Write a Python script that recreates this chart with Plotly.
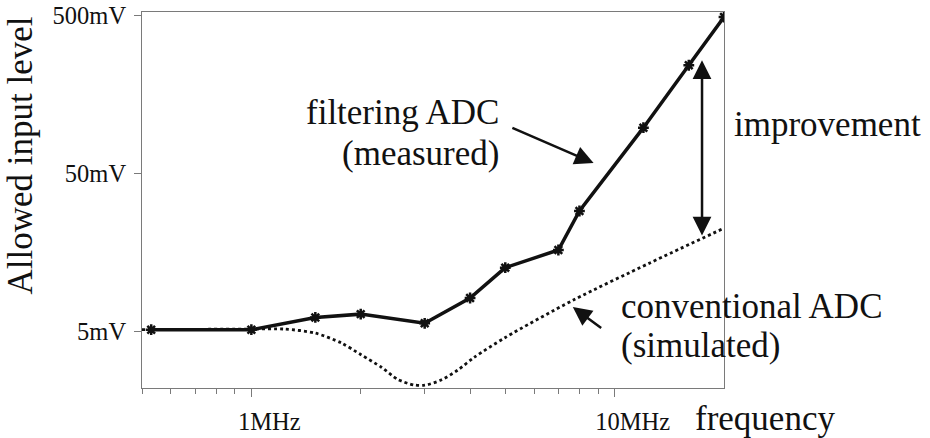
import plotly.graph_objects as go
import math

# ---- data (frequency in MHz, level in mV) ----
freq_measured = [0.53, 1.0, 1.5, 2.0, 3.0, 4.0, 5.0, 7.0, 8.0, 12.0, 16.0, 20.0]
level_measured = [5.1, 5.1, 6.1, 6.4, 5.6, 8.1, 12.6, 16.3, 28.8, 97.0, 241.0, 487.0]

freq_simulated = [0.5, 1.0, 1.23, 1.5, 1.77, 2.0, 2.28, 2.53, 2.8, 3.0, 3.33, 3.7, 4.1, 5.0, 7.7, 12.5, 20.0]
level_simulated = [5.1, 5.15, 5.15, 4.85, 4.2, 3.55, 2.95, 2.47, 2.28, 2.27, 2.45, 2.83, 3.4, 4.55, 7.86, 13.5, 22.4]

x_tick_vals = [1, 10]
x_tick_text = ["1MHz", "10MHz"]
x_minor_vals = [0.5, 0.6, 0.7, 0.8, 0.9, 2, 3, 4, 5, 6, 7, 8, 9]
y_tick_vals = [5, 50, 500]
y_tick_text = ["5mV", "50mV", "500mV"]

improvement_freq = 17.4
improvement_top = 259.0
improvement_bottom = 19.7

SERIF = "Liberation Serif, Times New Roman, serif"
INK = "#111111"
AXIS = "#7a7a7a"

fig = go.Figure()

fig.add_trace(go.Scatter(
    x=freq_simulated, y=level_simulated, mode="lines",
    line=dict(color=INK, width=2.8, dash="dot", shape="spline", smoothing=0.8),
    hoverinfo="skip", showlegend=False,
))
fig.add_trace(go.Scatter(
    x=freq_measured, y=level_measured, mode="lines+markers",
    line=dict(color=INK, width=3.5),
    marker=dict(symbol="asterisk-open", size=9, color=INK, line=dict(width=2.5, color=INK)),
    showlegend=False,
))

L, R, T, B = 142, 206, 12, 50
W, H = 930, 438
pw, ph = W - L - R, H - T - B

def px(xp):
    return (xp - L) / pw

def py(yp):
    return (H - B - yp) / ph

ann_font = dict(family=SERIF, size=35, color=INK)
anns = [
    dict(text="filtering ADC", x=px(501), y=py(113), xanchor="right", yanchor="middle"),
    dict(text="(measured)", x=px(501), y=py(153), xanchor="right", yanchor="middle"),
    dict(text="improvement", x=px(732), y=py(125), xanchor="left", yanchor="middle"),
    dict(text="conventional ADC", x=px(619), y=py(306), xanchor="left", yanchor="middle"),
    dict(text="(simulated)", x=px(619), y=py(345), xanchor="left", yanchor="middle"),
    dict(text="frequency", x=px(693), y=py(418), xanchor="left", yanchor="middle"),
    dict(text="Allowed input level", x=px(20), y=py(155.5), xanchor="center", yanchor="middle", textangle=-90),
]
for a in anns:
    a.update(xref="paper", yref="paper", showarrow=False, font=ann_font)
    fig.add_annotation(**a)

arrow_style = dict(showarrow=True, arrowhead=2, arrowsize=1.5, arrowwidth=2.5, arrowcolor=INK, text="",
                   xref="x", yref="y", axref="x", ayref="y")
# filtering ADC pointer
fig.add_annotation(x=math.log10(8.75), y=math.log10(57.9), ax=math.log10(5.18), ay=math.log10(97.7), **arrow_style)
# conventional ADC pointer
fig.add_annotation(x=math.log10(7.67), y=math.log10(7.09), ax=math.log10(9.27), ay=math.log10(5.15), **arrow_style)
# improvement double arrow
fig.add_annotation(x=math.log10(improvement_freq), y=math.log10(improvement_top),
                   ax=math.log10(improvement_freq), ay=math.log10(improvement_bottom),
                   arrowside="end+start", startarrowhead=2, startarrowsize=1.5, **arrow_style)

fig.update_xaxes(
    type="log", range=[math.log10(0.5), math.log10(20)], automargin=False,
    tickmode="array", tickvals=x_tick_vals, ticktext=x_tick_text,
    ticks="outside", ticklen=8, tickcolor=AXIS, tickwidth=1,
    ticklabelshift=18, ticklabelstandoff=4,
    minor=dict(tickmode="array", tickvals=x_minor_vals, ticks="outside", ticklen=5, tickcolor=AXIS, showgrid=False),
    showline=True, linecolor=AXIS, linewidth=1, mirror=True,
    showgrid=False, zeroline=False,
    tickfont=dict(family=SERIF, size=24.5, color=INK),
)
fig.update_yaxes(
    type="log", range=[math.log10(2.18), math.log10(524)], automargin=False,
    tickmode="array", tickvals=y_tick_vals, ticktext=y_tick_text,
    ticks="outside", ticklen=7, tickcolor=AXIS, tickwidth=1,
    ticklabelstandoff=3,
    showline=True, linecolor=AXIS, linewidth=1, mirror=True,
    showgrid=False, zeroline=False,
    tickfont=dict(family=SERIF, size=24.5, color=INK),
)
fig.update_layout(
    width=W, height=H,
    margin=dict(l=L, r=R, t=T, b=B, pad=0, autoexpand=False),
    paper_bgcolor="white", plot_bgcolor="white",
    showlegend=False,
)
fig.write_html("out.html")
